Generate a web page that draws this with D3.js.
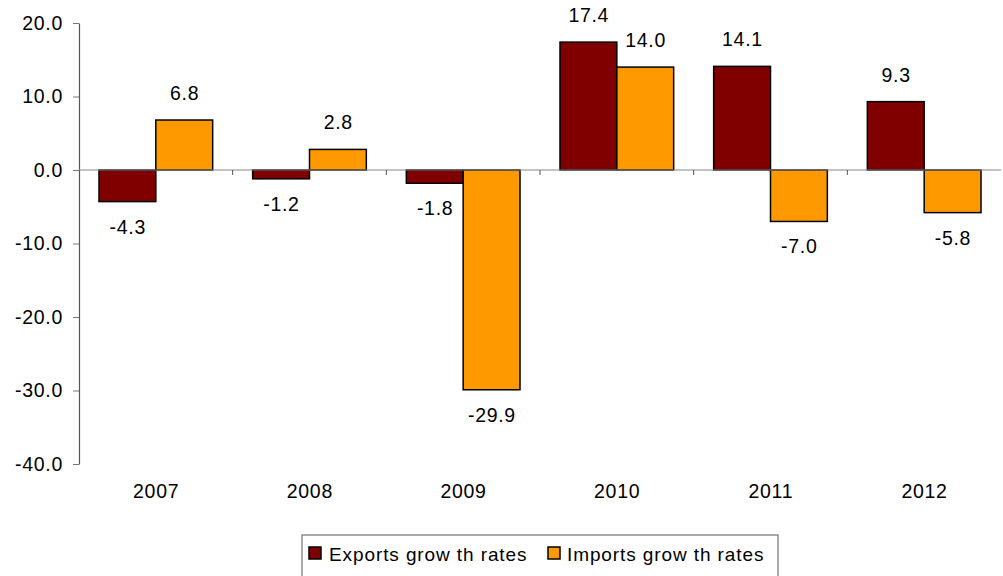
<!DOCTYPE html>
<html><head><meta charset="utf-8">
<script src="https://cdn.jsdelivr.net/npm/d3@7"></script>
<style>body{margin:0;background:#fff;} text{font-family:"Liberation Sans",Arial,sans-serif;}</style>
</head><body>
<svg id="c" width="1003" height="576"></svg>
<script>
const years = ["2007","2008","2009","2010","2011","2012"];
const exportsGrowth = [-4.3, -1.2, -1.8, 17.4, 14.1, 9.3];
const importsGrowth = [6.8, 2.8, -29.9, 14.0, -7.0, -5.8];
const yTicks = [20, 10, 0, -10, -20, -30, -40];
const seriesNames = ["Exports grow th rates", "Imports grow th rates"];
const colors = ["#800000", "#FF9900"];

(function(){
const svg = d3.select("#c");
const mLeft = 79, mRight = 1001, mTop = 23, mBottom = 464;
const LS = 0.7, FS = 19.5;
const y = d3.scaleLinear().domain([-40, 20]).range([mBottom, mTop]);
const x = d3.scaleBand().domain(years).range([mLeft, mRight]).paddingInner(0).paddingOuter(0);
const inner = d3.scaleBand().domain([0,1]).range([20, x.bandwidth()-20]);

// y axis
const yAxis = svg.append("g").attr("transform", `translate(${mLeft},0)`)
  .call(d3.axisLeft(y).tickValues(yTicks).tickFormat(d => d.toFixed(1)).tickSize(6).tickSizeOuter(0));
yAxis.select(".domain").attr("stroke", "#555").attr("stroke-width", 1.2);
yAxis.selectAll(".tick line").attr("stroke", "#777");
yAxis.selectAll(".tick text").attr("font-size", FS).attr("fill", "#000").attr("x", -16)
  .attr("letter-spacing", LS).attr("font-family", "Liberation Sans, Arial, sans-serif");

// bars
const data = [exportsGrowth, importsGrowth];
data.forEach((vals, s) => {
  svg.append("g").selectAll("rect").data(vals).join("rect")
    .attr("x", (d, i) => x(years[i]) + inner(s))
    .attr("width", inner.bandwidth())
    .attr("y", d => y(Math.max(0, d)))
    .attr("height", d => Math.abs(y(d) - y(0)))
    .attr("fill", colors[s]).attr("stroke", "#000").attr("stroke-width", 1.5);
  svg.append("g").selectAll("text").data(vals).join("text")
    .attr("x", (d, i) => x(years[i]) + inner(s) + inner.bandwidth()/2 + LS/2)
    .attr("y", d => d >= 0 ? y(d) - 20 : y(d) + 32)
    .attr("text-anchor", "middle").attr("font-size", FS).attr("letter-spacing", LS).attr("fill", "#000")
    .text(d => d.toFixed(1));
});

// x axis line at zero
svg.append("line").attr("x1", mLeft).attr("x2", mRight).attr("y1", y(0)).attr("y2", y(0))
  .attr("stroke", "#888").attr("stroke-width", 1.2);
svg.append("g").selectAll("line").data(years.slice(1)).join("line")
  .attr("x1", d => x(d)).attr("x2", d => x(d)).attr("y1", y(0)).attr("y2", y(0) + 5)
  .attr("stroke", "#555");
svg.append("g").selectAll("text").data(years).join("text")
  .attr("x", d => x(d) + x.bandwidth()/2 + LS/2).attr("y", 498)
  .attr("text-anchor", "middle").attr("font-size", FS).attr("letter-spacing", LS).attr("fill", "#000").text(d => d);

// legend
const lg = svg.append("g");
lg.append("rect").attr("x", 302).attr("y", 535).attr("width", 476).attr("height", 50)
  .attr("fill", "#fff").attr("stroke", "#555").attr("stroke-width", 1);
const items = [{x: 309, tx: 329}, {x: 548, tx: 567}];
items.forEach((it, i) => {
  lg.append("rect").attr("x", it.x).attr("y", 547).attr("width", 12).attr("height", 12)
    .attr("fill", colors[i]).attr("stroke", "#000").attr("stroke-width", 1.5);
  lg.append("text").attr("x", it.tx).attr("y", 561).attr("font-size", 19).attr("letter-spacing", 0.9)
    .attr("fill", "#000").text(seriesNames[i]);
});
})();
</script>
</body></html>
